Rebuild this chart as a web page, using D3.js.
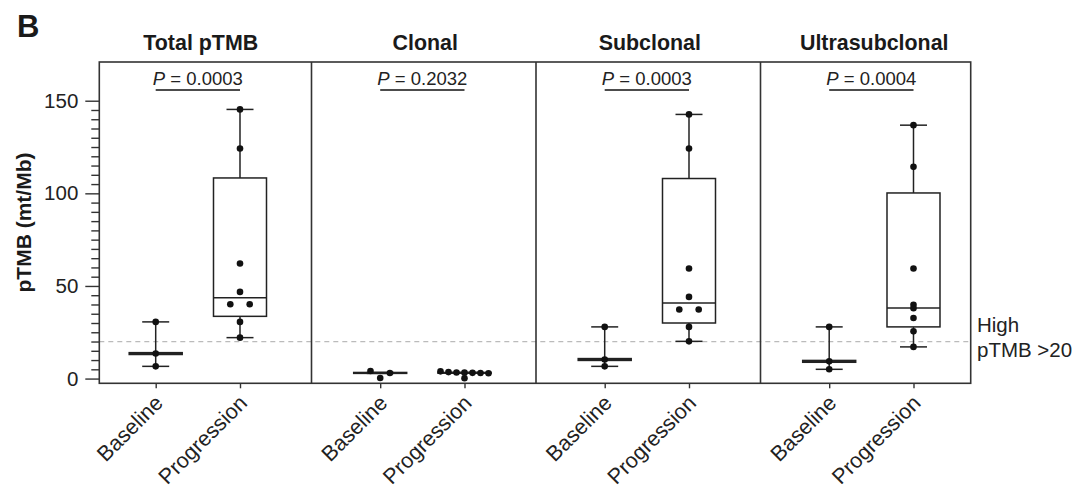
<!DOCTYPE html>
<html>
<head>
<meta charset="utf-8">
<script src="https://cdn.jsdelivr.net/npm/d3@7"></script>
<style>
body { margin: 0; background: #fff; }
text { font-family: "Liberation Sans", Arial, Helvetica, sans-serif; fill: #1a1a1a; }
</style>
</head>
<body>
<script>
var width = 1080;
var height = 492;

var panels = ["Total pTMB", "Clonal", "Subclonal", "Ultrasubclonal"];
var groups = ["Baseline", "Progression"];
var pValues = ["0.0003", "0.2032", "0.0003", "0.0004"];
var yTicks = [0, 50, 100, 150];
var highCutoff = 20;

// dots per panel: [baseline, progression]
var totalPoints = [[30.6, 13.5, 6.6], [145.3, 124.2, 62.1, 46.8, 40.1, 40.1, 30.6, 22.1]];
var clonalPoints = [[4.1, 3.0, 0.3], [3.9, 3.5, 3.3, 3.2, 3.1, 3.0, 2.9, 0.2]];
var subclonalPoints = [[27.9, 10.3, 6.6], [142.6, 124.2, 59.4, 44.1, 37.3, 37.3, 27.9, 20.1]];
var ultraPoints = [[27.9, 9.3, 5.0], [136.8, 114.3, 59.4, 39.8, 38.0, 32.7, 25.5, 17.1]];

// box stats: [low whisker, q1, median, q3, high whisker]
var totalBoxes = [[6.6, 13.0, 13.5, 14.0, 30.6], [22.1, 33.6, 43.7, 108.3, 145.3]];
var clonalBoxes = [[2.8, 2.8, 3.0, 3.3, 3.3], [2.9, 2.9, 3.1, 3.3, 3.3]];
var subclonalBoxes = [[6.6, 9.8, 10.3, 10.8, 27.9], [20.1, 30.0, 40.8, 108.0, 142.6]];
var ultraBoxes = [[5.0, 8.8, 9.3, 9.8, 27.9], [17.1, 27.9, 38.1, 100.2, 136.8]];

var allPoints = [totalPoints, clonalPoints, subclonalPoints, ultraPoints];
var allBoxes = [totalBoxes, clonalBoxes, subclonalBoxes, ultraBoxes];

var plotTop = 62, plotBottom = 383.3;
var frameLeft = 99.3, frameRight = 970.7;
var ink = "#222";

var svg = d3.select("body").append("svg")
    .attr("width", width)
    .attr("height", height);

var y = d3.scaleLinear().domain([-2.55, 170.9]).range([plotBottom, plotTop]);

var panelX = d3.scaleBand().domain(panels).range([87, 985]);

function groupX(panel) {
    var x0 = panelX(panel);
    return d3.scalePoint().domain(groups)
        .range([x0, x0 + panelX.bandwidth()])
        .padding(0.8316).align(0.49);
}

// spread dots with (nearly) the same value side by side
function dodge(values) {
    var order = values.map((v, i) => i).sort((a, b) => values[b] - values[a]);
    var offsets = values.map(() => 0);
    var clusters = [], cur = [order[0]];
    for (var i = 1; i < order.length; i++) {
        if (y(values[order[i]]) - y(values[order[i - 1]]) < 2.5) cur.push(order[i]);
        else { clusters.push(cur); cur = [order[i]]; }
    }
    clusters.push(cur);
    clusters.forEach(c => {
        var k = c.length;
        if (k < 2) return;
        var s = Math.min(19.4, 48 / (k - 1));
        c.forEach((j, n) => { offsets[j] = (n - (k - 1) / 2) * s; });
    });
    return offsets;
}

// figure letter
svg.append("text")
    .attr("x", 17).attr("y", 37)
    .style("font-size", "31px").style("font-weight", "bold")
    .text("B");

// y axis label
svg.append("text")
    .attr("transform", "translate(31,222.5) rotate(-90)")
    .attr("text-anchor", "middle")
    .style("font-size", "21px").style("font-weight", "bold")
    .text("pTMB (mt/Mb)");

// y axis: minor then major ticks
var minor = d3.range(5, 150, 5).filter(v => v % 50 !== 0);
var yMinor = svg.append("g")
    .attr("transform", `translate(${frameLeft},0)`)
    .call(d3.axisLeft(y).tickValues(minor).tickSize(8).tickFormat(""));
var yMajor = svg.append("g")
    .attr("transform", `translate(${frameLeft},0)`)
    .call(d3.axisLeft(y).tickValues(yTicks).tickSize(14).tickPadding(7));
[yMinor, yMajor].forEach(g => {
    g.select(".domain").remove();
    g.selectAll("line").attr("stroke", "#333").attr("stroke-width", 1.4);
});
yMajor.selectAll("text")
    .style("font-size", "20.5px")
    .attr("font-family", null)
    .style("fill", ink);

// threshold line
svg.append("line")
    .attr("x1", frameLeft).attr("x2", frameRight)
    .attr("y1", y(highCutoff)).attr("y2", y(highCutoff))
    .attr("stroke", "#bbb").attr("stroke-width", 1.2)
    .attr("stroke-dasharray", "5,4");

svg.append("text")
    .attr("x", 977).attr("y", y(highCutoff) - 10)
    .style("font-size", "20.5px").style("fill", ink)
    .text("High");
svg.append("text")
    .attr("x", 977).attr("y", y(highCutoff) + 15.5)
    .style("font-size", "20.5px").style("fill", ink)
    .text("pTMB >20");

panels.forEach((panel, pi) => {
    var x = groupX(panel);
    var g = svg.append("g");

    // title
    g.append("text")
        .attr("x", panelX(panel) + panelX.bandwidth() / 2 + 1.5)
        .attr("y", 50)
        .attr("text-anchor", "middle")
        .style("font-size", "21.4px").style("font-weight", "bold")
        .text(panel);

    // p value with bar
    var xa = x(groups[0]), xb = x(groups[1]);
    var pt = g.append("text")
        .attr("x", (xa + xb) / 2).attr("y", 85)
        .attr("text-anchor", "middle")
        .style("font-size", "18.5px").style("fill", ink);
    pt.append("tspan").style("font-style", "italic").text("P");
    pt.append("tspan").text(" = " + pValues[pi]);
    g.append("line")
        .attr("x1", xa).attr("x2", xb)
        .attr("y1", 90).attr("y2", 90)
        .attr("stroke", "#111").attr("stroke-width", 1.4);

    // boxes
    var boxW = 53, capW = 27;
    groups.forEach((grp, gi) => {
        var s = allBoxes[pi][gi];
        var cx = x(grp);
        var b = g.append("g").attr("stroke", "#222").attr("stroke-width", 1.5).attr("fill", "none");
        b.append("line").attr("x1", cx).attr("x2", cx).attr("y1", y(s[3])).attr("y2", y(s[4]));
        b.append("line").attr("x1", cx).attr("x2", cx).attr("y1", y(s[1])).attr("y2", y(s[0]));
        b.append("line").attr("x1", cx - capW / 2).attr("x2", cx + capW / 2).attr("y1", y(s[4])).attr("y2", y(s[4]));
        b.append("line").attr("x1", cx - capW / 2).attr("x2", cx + capW / 2).attr("y1", y(s[0])).attr("y2", y(s[0]));
        b.append("rect")
            .attr("x", cx - boxW / 2).attr("width", boxW)
            .attr("y", y(s[3])).attr("height", y(s[1]) - y(s[3]));
        b.append("line").attr("x1", cx - boxW / 2).attr("x2", cx + boxW / 2).attr("y1", y(s[2])).attr("y2", y(s[2]));

        var vals = allPoints[pi][gi];
        var off = dodge(vals);
        g.selectAll(null)
            .data(vals)
            .enter().append("circle")
            .attr("cx", (d, i) => cx + off[i])
            .attr("cy", d => y(d))
            .attr("r", 3.3)
            .attr("fill", "#111");
    });

    // bottom axis
    var ax = g.append("g")
        .attr("transform", `translate(0,${plotBottom})`)
        .call(d3.axisBottom(x).tickSize(5));
    ax.select(".domain").remove();
    ax.selectAll("line").attr("stroke", "#333").attr("stroke-width", 1.4);
    ax.selectAll("text")
        .attr("y", 0).attr("dy", null)
        .attr("transform", "translate(8,21) rotate(-45)")
        .attr("text-anchor", "end")
        .attr("font-family", null)
        .style("font-size", "21.5px")
        .style("fill", ink);
});

// panel frames
var frame = svg.append("g").attr("stroke", "#333").attr("stroke-width", 1.6).attr("fill", "none");
frame.append("rect")
    .attr("x", frameLeft).attr("y", plotTop)
    .attr("width", frameRight - frameLeft).attr("height", plotBottom - plotTop);
frame.selectAll(null)
    .data(panels.slice(1))
    .enter().append("line")
    .attr("x1", d => panelX(d)).attr("x2", d => panelX(d))
    .attr("y1", plotTop).attr("y2", plotBottom);
</script>
</body>
</html>
